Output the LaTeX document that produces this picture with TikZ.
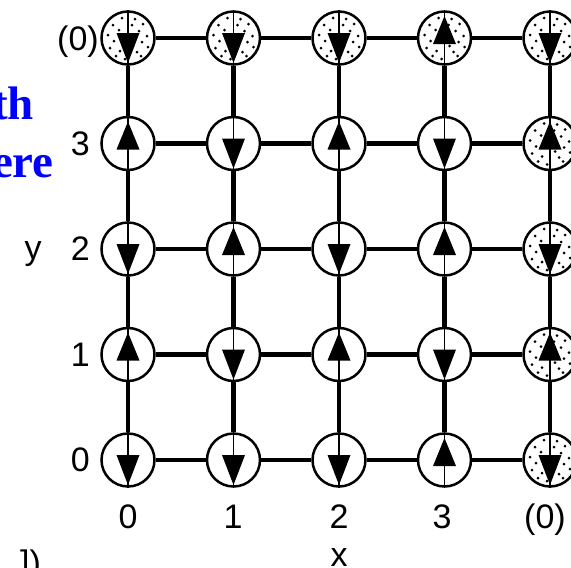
\documentclass[tikz,border=0pt]{standalone}
\usepackage{fontspec}
\setmainfont{Liberation Sans}
\newfontfamily\blueserif{Liberation Serif}
\begin{document}
\begin{tikzpicture}[x=1pt,y=-1pt,
  spin/.style={circle,draw,line width=2.5pt,fill=white,minimum size=53pt,inner sep=0pt},
  bond/.style={line width=4.8pt},
  innerline/.style={line width=1.8pt},
  lbl/.style={font=\fontsize{34}{34}\selectfont,inner sep=0pt},
  bluetext/.style={text=blue,inner sep=0pt,font=\blueserif\bfseries\fontsize{47}{47}\selectfont}]
\useasboundingbox (0,0) rectangle (571,568);
\clip (0,0) rectangle (571,568);
% sites
\foreach \j/\row in {0/{0,0,0,1,0}, 1/{1,0,1,0,1}, 2/{0,1,0,1,0}, 3/{1,0,1,0,1}, 4/{0,0,0,1,0}} {
  \foreach \s [count=\ii from 0] in \row {
    \node[spin] (c\ii\j) at ({128+105.5*\ii},{38+105.5*\j}) {};
    \pgfmathtruncatemacro{\stp}{(\j==0)||(\ii==4)}
    \ifnum\stp=1
      \foreach \dx/\dy in {-6/-20,7/-19,-15/-13,15/-14,-9/-8,11/-7,-20/-3,19/-2,-14/3,14/4,-18/10,20/9,-8/13,9/14,-12/18,13/18,-3/21,5/8,-5/-2,4/-13}
        \fill ([shift={(\dx,\dy)}]c\ii\j.center) circle (1.5);
    \fi
    \draw[innerline] (c\ii\j.north) -- (c\ii\j.south);
    \ifnum\s=1
      \fill ([shift={(-11.5,6)}]c\ii\j.center) -- ([shift={(11.5,6)}]c\ii\j.center) -- ([shift={(0,-22)}]c\ii\j.center) -- cycle;
    \else
      \fill ([shift={(-11.5,-5)}]c\ii\j.center) -- ([shift={(11.5,-5)}]c\ii\j.center) -- ([shift={(0,25)}]c\ii\j.center) -- cycle;
    \fi
  }
}
% bonds
\foreach \j in {0,...,4} {
  \foreach \i [evaluate=\i as \k using int(\i+1)] in {0,...,3}
    \draw[bond] (c\i\j) -- (c\k\j);
}
\foreach \i in {0,...,4} {
  \foreach \j [evaluate=\j as \k using int(\j+1)] in {0,...,3}
    \draw[bond] (c\i\j) -- (c\i\k);
}
% row labels
\node[lbl,anchor=base east] (ly0) at (99,50) {(0)};
\node[lbl,anchor=base east] (ly3) at (90,155) {3};
\node[lbl,anchor=base east] (ly2) at (90,260.5) {2};
\node[lbl,anchor=base east] (ly1) at (90,366) {1};
\node[lbl,anchor=base east] (lyb) at (90,471.5) {0};
\node[lbl,anchor=base] (ylab) at (33,259) {y};
% column labels
\node[lbl,anchor=base] (lx0) at (128,528) {0};
\node[lbl,anchor=base] (lx1) at (233,528) {1};
\node[lbl,anchor=base] (lx2) at (339,528) {2};
\node[lbl,anchor=base] (lx3) at (442,528) {3};
\node[lbl,anchor=base] (lx4) at (545,528) {(0)};
\node[lbl,anchor=base] (xlab) at (339,566) {x};
% cut-off fragments
\node[bluetext,anchor=base east] (b1) at (34,119) {th};
\node[bluetext,anchor=base east] (b2) at (54,177) {ere};
\node[lbl,anchor=base west] (frag) at (20,574) {])};
\end{tikzpicture}
\end{document}
